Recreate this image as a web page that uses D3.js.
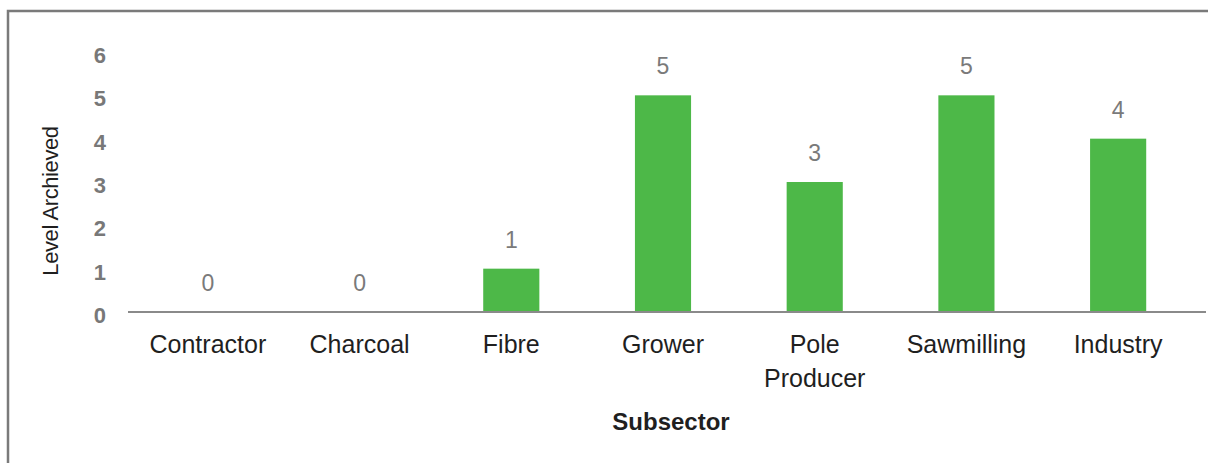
<!DOCTYPE html>
<html>
<head>
<meta charset="utf-8">
<script src="https://cdn.jsdelivr.net/npm/d3@7"></script>
<style>
  html, body { margin: 0; padding: 0; background: #fff; }
  svg { display: block; font-family: "Liberation Sans", Arial, Helvetica, sans-serif; }
</style>
</head>
<body>
<svg id="chart" width="1208" height="463"></svg>
<script>
const categories = ["Contractor", "Charcoal", "Fibre", "Grower", "Pole Producer", "Sawmilling", "Industry"];
const levels = [0, 0, 1, 5, 3, 5, 4];
const yTicks = [0, 1, 2, 3, 4, 5, 6];
const yTitle = "Level Archieved";
const xTitle = "Subsector";

const W = 1208, H = 463;
const svg = d3.select("#chart");

// outer frame
svg.append("rect")
  .attr("x", 8).attr("y", 11)
  .attr("width", W + 10).attr("height", H + 10)
  .attr("fill", "none").attr("stroke", "#7a7a7a").attr("stroke-width", 2.5);

const x = d3.scaleBand()
  .domain(categories)
  .range([132, 1194])
  .paddingInner(0.63)
  .paddingOuter(0.315);

const y = d3.scaleLinear().domain([0, 6]).range([312, 52]);

// bars
svg.append("g").selectAll("rect")
  .data(categories)
  .join("rect")
  .attr("x", d => x(d))
  .attr("width", x.bandwidth())
  .attr("y", (d, i) => y(levels[i]))
  .attr("height", (d, i) => y(0) - y(levels[i]))
  .attr("fill", "#4db848");

// baseline
svg.append("line")
  .attr("x1", 128).attr("x2", 1206)
  .attr("y1", y(0)).attr("y2", y(0))
  .attr("stroke", "#8a8a8a").attr("stroke-width", 2);

// y axis ticks
const yAxis = d3.axisLeft(y).tickValues(yTicks).tickSize(0).tickPadding(22).tickFormat(d3.format("d"));
const gy = svg.append("g").attr("transform", "translate(128,0)").call(yAxis);
gy.select(".domain").remove();
gy.selectAll("text")
  .attr("font-size", 22)
  .attr("font-weight", "bold")
  .attr("fill", "#787878")
  .attr("font-family", "Liberation Sans, Arial, sans-serif")
  .attr("dy", "0.47em");

// x axis labels
const xAxis = d3.axisBottom(x).tickSize(0).tickPadding(0);
const gx = svg.append("g").attr("transform", `translate(0,${y(0)})`).call(xAxis);
gx.select(".domain").remove();
gx.selectAll("text").each(function(d) {
  const t = d3.select(this);
  t.text(null)
    .attr("y", 41).attr("dy", null)
    .attr("font-size", 25)
    .attr("fill", "#1f1f1f")
    .attr("font-family", "Liberation Sans, Arial, sans-serif");
  const words = d.split(" ");
  words.forEach((w, k) => {
    t.append("tspan").attr("x", 0).attr("dy", k === 0 ? 0 : 34).text(w);
  });
});

// data labels
svg.append("g").selectAll("text")
  .data(categories)
  .join("text")
  .attr("x", d => x(d) + x.bandwidth() / 2)
  .attr("y", (d, i) => y(levels[i]) - 21)
  .attr("text-anchor", "middle")
  .attr("font-size", 23)
  .attr("fill", "#7a7a7a")
  .text((d, i) => levels[i]);

// axis titles
svg.append("text")
  .attr("transform", "translate(58,201) rotate(-90)")
  .attr("text-anchor", "middle")
  .attr("font-size", 22)
  .attr("letter-spacing", -0.4)
  .attr("fill", "#1f1f1f")
  .text(yTitle);

svg.append("text")
  .attr("x", 671).attr("y", 430)
  .attr("text-anchor", "middle")
  .attr("font-size", 24)
  .attr("font-weight", "bold")
  .attr("fill", "#1f1f1f")
  .text(xTitle);
</script>
</body>
</html>
